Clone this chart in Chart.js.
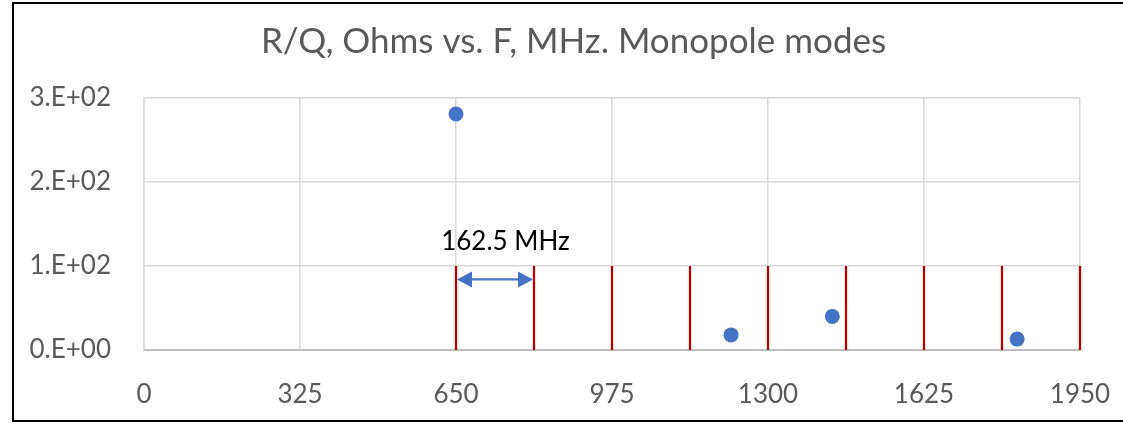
<!DOCTYPE html>
<html>
<head>
<meta charset="utf-8">
<script src="https://cdn.jsdelivr.net/npm/chart.js@4.4.1/dist/chart.umd.min.js"></script>
<style>
  html, body { margin: 0; padding: 0; background: #ffffff; }
  #wrap { position: relative; width: 1123px; height: 423px; }
  #frame {
    position: absolute; left: 12px; top: 2px; width: 1120px; height: 420px;
    box-sizing: border-box; border: 2px solid #000; border-right: none;
    pointer-events: none;
  }
</style>
</head>
<body>
<div id="wrap">
  <canvas id="chart" width="1123" height="423"></canvas>
  <div id="frame"></div>
</div>
<script>
// Monopole mode frequencies (MHz) and their R/Q (Ohms)
const modeFreq = [650, 1223, 1434, 1819];
const modeRQ = [281, 18, 40, 13];

// Multiples of the 162.5 MHz bunch frequency, drawn as red markers
const harmonicFreq = [650, 812.5, 975, 1137.5, 1300, 1462.5, 1625, 1787.5, 1950];
const harmonicTop = 100;

// Spacing annotation
const spacingFrom = 650;
const spacingTo = 812.5;
const spacingY = 84;
const spacingText = '162.5 MHz';
const spacingTextX = 753;
const spacingTextY = 129;

// Axis ticks
const xTickValues = [0, 325, 650, 975, 1300, 1625, 1950];
const xTickLabels = ['0', '325', '650', '975', '1300', '1625', '1950'];
const yTickValues = [0, 100, 200, 300];
const yTickLabels = ['0.E+00', '1.E+02', '2.E+02', '3.E+02'];

const FONT = 'Lato, "Open Sans", sans-serif';
const GREY_TEXT = '#595959';
const BLUE = '#4472C4';
const RED = '#C00000';

const harmonicSets = harmonicFreq.map(f => ({
  type: 'line',
  data: [{ x: f, y: 0 }, { x: f, y: harmonicTop }],
  borderColor: RED,
  borderWidth: 2.25,
  pointRadius: 0,
  fill: false,
  clip: false,
  order: 2
}));

// Centre the title a little right of the canvas middle
const titleOffset = {
  id: 'titleOffset',
  afterLayout(chart) {
    if (chart.titleBlock) chart.titleBlock.left += 47;
  }
};

// Double-headed arrow with its caption
const spacingArrow = {
  id: 'spacingArrow',
  afterDatasetsDraw(chart) {
    const { ctx, scales: { x, y } } = chart;
    const x1 = x.getPixelForValue(spacingFrom);
    const x2 = x.getPixelForValue(spacingTo);
    const yy = y.getPixelForValue(spacingY);
    const headL = 15, headH = 8;
    ctx.save();
    ctx.strokeStyle = BLUE;
    ctx.fillStyle = BLUE;
    ctx.lineWidth = 2.25;
    ctx.beginPath();
    ctx.moveTo(x1 + headL - 2, yy);
    ctx.lineTo(x2 - headL + 2, yy);
    ctx.stroke();
    ctx.beginPath();
    ctx.moveTo(x1 + 1, yy);
    ctx.lineTo(x1 + 1 + headL, yy - headH);
    ctx.lineTo(x1 + 1 + headL, yy + headH);
    ctx.closePath();
    ctx.fill();
    ctx.beginPath();
    ctx.moveTo(x2 - 1, yy);
    ctx.lineTo(x2 - 1 - headL, yy - headH);
    ctx.lineTo(x2 - 1 - headL, yy + headH);
    ctx.closePath();
    ctx.fill();
    ctx.fillStyle = '#000000';
    ctx.font = '26px ' + FONT;
    ctx.textAlign = 'center';
    ctx.textBaseline = 'middle';
    ctx.fillText(spacingText, x.getPixelForValue(spacingTextX), y.getPixelForValue(spacingTextY));
    ctx.restore();
  }
};

new Chart(document.getElementById('chart'), {
  type: 'scatter',
  data: {
    datasets: [
      {
        label: 'R/Q',
        data: modeFreq.map((f, i) => ({ x: f, y: modeRQ[i] })),
        backgroundColor: BLUE,
        borderWidth: 0,
        pointRadius: 7.5,
        pointHoverRadius: 7.5,
        order: 1
      },
      ...harmonicSets
    ]
  },
  options: {
    responsive: false,
    animation: false,
    events: [],
    layout: { padding: { left: 20, right: 43, top: 0, bottom: 0 } },
    plugins: {
      legend: { display: false },
      tooltip: { enabled: false },
      title: {
        display: true,
        text: 'R/Q, Ohms vs. F, MHz. Monopole modes',
        color: GREY_TEXT,
        font: { family: FONT, size: 35, weight: 'normal', lineHeight: 1.2 },
        padding: { top: 21, bottom: 35 }
      }
    },
    scales: {
      x: {
        type: 'linear',
        min: 0,
        max: 1950,
        afterBuildTicks(scale) { scale.ticks = xTickValues.map(v => ({ value: v })); },
        afterFit(scale) { scale.height = 73; scale.paddingLeft = 0; scale.paddingRight = 0; },
        ticks: {
          color: GREY_TEXT,
          font: { family: FONT, size: 26 },
          padding: 29,
          maxRotation: 0,
          autoSkip: false,
          callback: (v) => xTickLabels[xTickValues.indexOf(v)]
        },
        grid: { color: '#D9D9D9', lineWidth: 1.5, drawTicks: false },
        border: { color: '#BFBFBF', width: 2 }
      },
      y: {
        type: 'linear',
        min: 0,
        max: 300,
        afterBuildTicks(scale) { scale.ticks = yTickValues.map(v => ({ value: v })); },
        afterFit(scale) { scale.width = 124; },
        ticks: {
          color: GREY_TEXT,
          font: { family: FONT, size: 26 },
          padding: 33,
          callback: (v) => yTickLabels[yTickValues.indexOf(v)]
        },
        grid: { color: '#D9D9D9', lineWidth: 1.5, drawTicks: false },
        border: { color: '#D9D9D9', width: 1.5 }
      }
    }
  },
  plugins: [titleOffset, spacingArrow]
});
</script>
</body>
</html>
